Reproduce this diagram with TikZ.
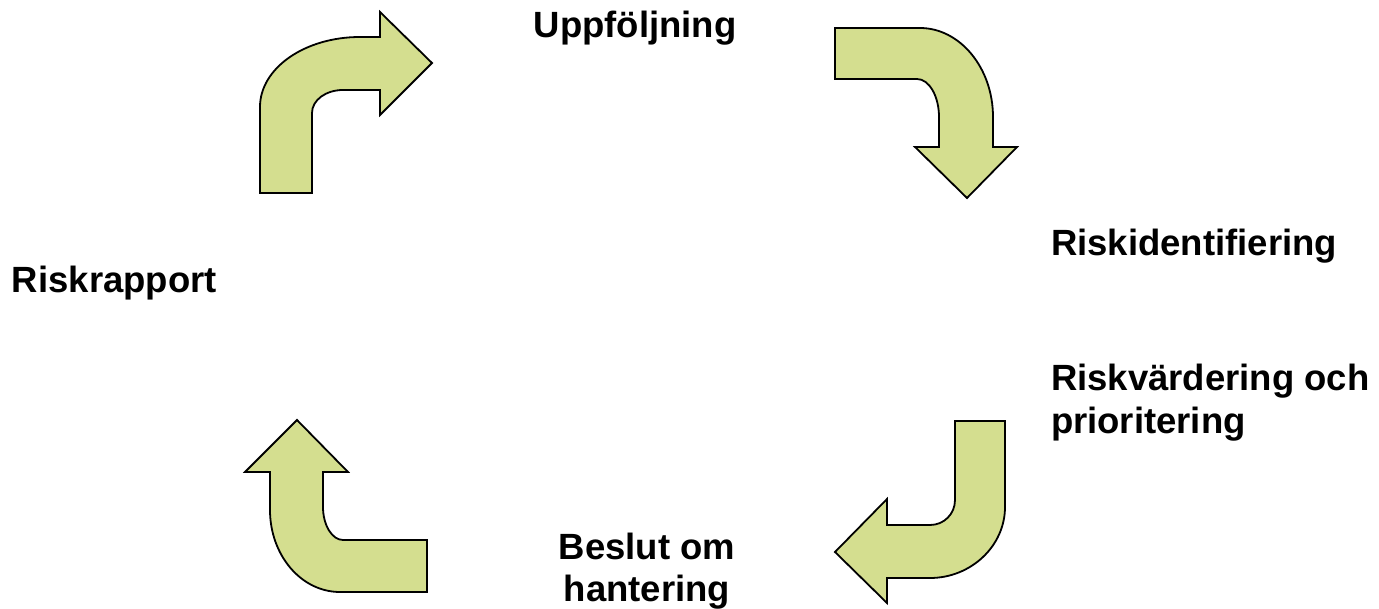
\documentclass[tikz,border=0pt]{standalone}
\usepackage{fontspec}
\setmainfont{Liberation Sans}
\definecolor{arrowgreen}{RGB}{212,222,143}
\tikzset{
  bentarrow/.style={fill=arrowgreen, draw=black, line width=1.8pt, line join=miter},
  lbl/.style={font=\fontsize{36.5pt}{43pt}\selectfont\bfseries, inner sep=0pt, outer sep=0pt, align=left},
  lblc/.style={lbl, align=center}
}
\begin{document}
\begin{tikzpicture}[x=1pt, y=-1pt]
\useasboundingbox (0,0) rectangle (1379,609);
% Arrow 1: up then right
\path[bentarrow] (260,193) -- (260,107)
  .. controls (260,68) and (305,37) .. (360,37)
  -- (380,37) -- (380,12) -- (432,63) -- (380,115) -- (380,90) -- (343,90)
  .. controls (326,90) and (312,100) .. (312,113)
  -- (312,193) -- cycle;
% Arrow 2: right then down
\path[bentarrow] (835,28) -- (920,28)
  .. controls (960,28) and (993,68) .. (993,117)
  -- (993,147) -- (1017,147) -- (967,198) -- (915,147) -- (939,147) -- (939,117)
  .. controls (939,96) and (929,79) .. (917,79)
  -- (835,79) -- cycle;
% Arrow 3: down then left
\path[bentarrow] (1005,421) -- (1005,507)
  .. controls (1005,546) and (971,578) .. (930,578)
  -- (887,578) -- (887,603) -- (835,552) -- (887,499) -- (887,525) -- (930,525)
  .. controls (944,525) and (955,514) .. (955,500)
  -- (955,421) -- cycle;
% Arrow 4: left then up
\path[bentarrow] (427,540) -- (343,540)
  .. controls (332,540) and (323,525) .. (323,507)
  -- (323,472) -- (348,472) -- (297,420) -- (245,472) -- (270,472) -- (270,510)
  .. controls (270,555) and (301,592) .. (340,592)
  -- (427,592) -- cycle;
% Labels
\node[lblc, anchor=base] (uppf) at (635,38) {Uppföljning};
\node[lbl, anchor=base west] (riskid) at (1051,256) {Riskidentifiering};
\node[lbl, anchor=base west] (riskrap) at (12,293) {Riskrapport};
\node[lbl, anchor=base west] (riskvar) at (1051,391) {Riskvärdering och};
\node[lbl, anchor=base west] (prio) at (1051,433) {prioritering};
\node[lblc, anchor=base] (beslut) at (647,559) {Beslut om};
\node[lblc, anchor=base] (hant) at (647,601) {hantering};
\end{tikzpicture}
\end{document}
